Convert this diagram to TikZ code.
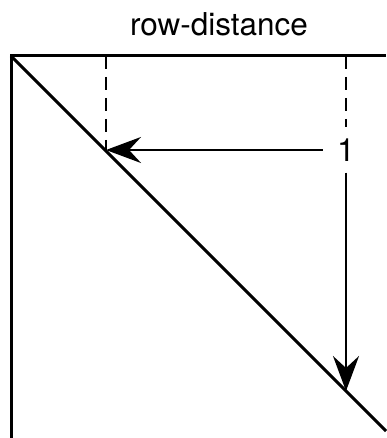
\documentclass[tikz,border=0pt]{standalone}
\usepackage{fontspec}
\setmainfont{TeX Gyre Heros}
\usetikzlibrary{positioning,arrows.meta}
\tikzset{
  edge/.style={line width=3pt},
  guide/.style={line width=2.8pt,dash pattern=on 13pt off 8pt},
  pointer/.style={-{Stealth[length=35pt,width=26pt,inset=12pt]},line width=2.3pt},
  title/.style={font=\fontsize{31.5}{37}\selectfont,inner sep=0pt},
  lbl/.style={font=\fontsize{32}{38}\selectfont,inner xsep=14pt,inner ysep=11pt}}

\begin{document}
\begin{tikzpicture}[x=1pt,y=-1pt]
  \useasboundingbox (0,0) rectangle (386,438);
  \node[title] (head) at (219,24) {row-distance};
  \coordinate (topleft) at (11,56);
  \coordinate (topright) at (386,56);
  \coordinate (botleft) at (11,438);
  \coordinate (botright) at (386,431);
  \coordinate (colA) at (106,56);
  \coordinate (colB) at (346,56);
  \coordinate (hitA) at (106,151);
  \coordinate (hitB) at (346,391);
  \node[lbl] (one) at (346,150) {1};
  \draw[edge] (topright) -- (topleft) -- (botleft);
  \draw[edge] (topleft) -- (botright);
  \draw[guide] (colA) -- (hitA);
  \draw[guide] (colB) -- (one.north);
  \draw[pointer] (one.west) -- (one.west -| hitA);
  \draw[pointer] (one.south) -- (hitB);
\end{tikzpicture}
\end{document}
